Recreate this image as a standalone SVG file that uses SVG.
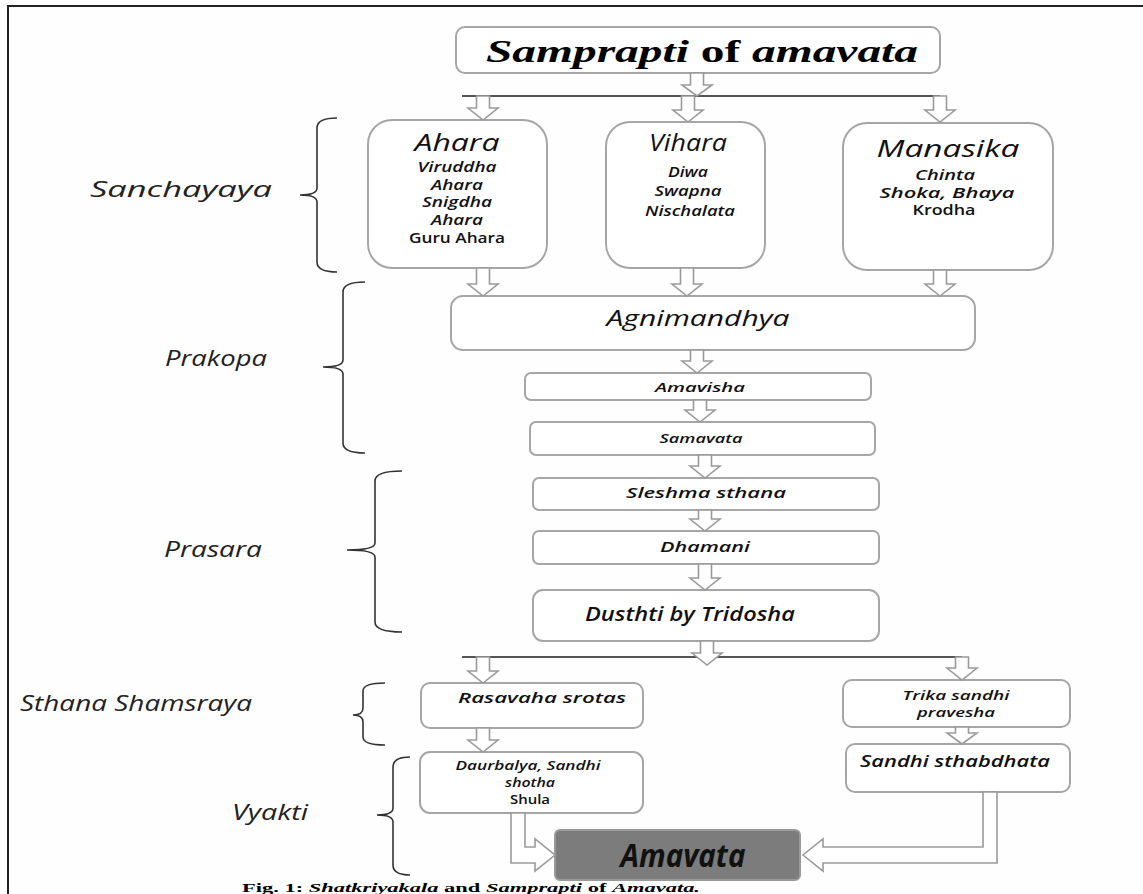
<svg xmlns="http://www.w3.org/2000/svg" width="1143" height="894" viewBox="0 0 1143 894">
<style>
.box{fill:#fff;stroke:#a6a6a6;stroke-width:2}
.arr{fill:#fff;stroke:#9a9a9a;stroke-width:1.6;stroke-linejoin:miter}
.hl{stroke:#555;stroke-width:2;fill:none}
.br{stroke:#333;stroke-width:1.6;fill:none}
.t{font-family:"Open Sans","DejaVu Sans",sans-serif;fill:#111;text-anchor:middle}
.i{font-style:italic}
.b{font-weight:600}
.sb{font-weight:600}
.side{font-family:"Open Sans","DejaVu Sans",sans-serif;font-style:italic;font-size:21px;fill:#222}
</style>
<rect width="1143" height="894" fill="#fefefe"/>
<path d="M8,894 V6 H1143" stroke="#222" stroke-width="2" fill="none"/>

<g id="title">
<rect class="box" x="456" y="27" width="484" height="46" rx="9"/>
<text x="702" y="62" font-family="'Liberation Serif',serif" font-weight="700" font-size="32" text-anchor="middle" textLength="432" lengthAdjust="spacingAndGlyphs"><tspan font-style="italic">Samprapti</tspan> of <tspan font-style="italic">amavata</tspan></text>
</g>

<g id="ahara">
<rect class="box" x="368" y="120" width="179" height="148" rx="24"/>
<text class="t i" x="457" y="151" font-size="23" textLength="85" lengthAdjust="spacingAndGlyphs">Ahara</text>
<text class="t i b" x="457" y="172" font-size="14" textLength="79" lengthAdjust="spacingAndGlyphs">Viruddha</text>
<text class="t i b" x="457" y="190" font-size="14" textLength="52" lengthAdjust="spacingAndGlyphs">Ahara</text>
<text class="t i b" x="457" y="207" font-size="14" textLength="70" lengthAdjust="spacingAndGlyphs">Snigdha</text>
<text class="t i b" x="457" y="225" font-size="14" textLength="52" lengthAdjust="spacingAndGlyphs">Ahara</text>
<text class="t sb" x="457" y="243" font-size="14" textLength="96" lengthAdjust="spacingAndGlyphs">Guru Ahara</text>
</g>

<g id="vihara">
<rect class="box" x="606" y="122" width="159" height="146" rx="24"/>
<text class="t i" x="688" y="151" font-size="23" textLength="78" lengthAdjust="spacingAndGlyphs">Vihara</text>
<text class="t i b" x="688" y="177" font-size="14" textLength="40" lengthAdjust="spacingAndGlyphs">Diwa</text>
<text class="t i b" x="688" y="196" font-size="14" textLength="67" lengthAdjust="spacingAndGlyphs">Swapna</text>
<text class="t i b" x="690" y="216" font-size="14" textLength="90" lengthAdjust="spacingAndGlyphs">Nischalata</text>
</g>

<g id="manasika">
<rect class="box" x="843" y="123" width="210" height="147" rx="24"/>
<text class="t i" x="948" y="157" font-size="23" textLength="143" lengthAdjust="spacingAndGlyphs">Manasika</text>
<text class="t i b" x="945" y="180" font-size="14" textLength="60" lengthAdjust="spacingAndGlyphs">Chinta</text>
<text class="t i b" x="947" y="198" font-size="14" textLength="135" lengthAdjust="spacingAndGlyphs">Shoka, Bhaya</text>
<text class="t sb" x="944" y="215" font-size="14" textLength="63" lengthAdjust="spacingAndGlyphs">Krodha</text>
</g>

<g id="agnimandhya">
<rect class="box" x="451" y="296" width="524" height="54" rx="12"/>
<text class="t i" x="698" y="326" font-size="22" textLength="183" lengthAdjust="spacingAndGlyphs">Agnimandhya</text>
</g>

<g id="amavisha">
<rect class="box" x="525" y="373" width="346" height="27" rx="6"/>
<text class="t i sb" x="700" y="392" font-size="13" textLength="90" lengthAdjust="spacingAndGlyphs">Amavisha</text>
</g>

<g id="samavata">
<rect class="box" x="530" y="422" width="345" height="33" rx="6"/>
<text class="t i sb" x="701" y="443" font-size="13" textLength="83" lengthAdjust="spacingAndGlyphs">Samavata</text>
</g>

<g id="sleshma">
<rect class="box" x="533" y="478" width="346" height="32" rx="6"/>
<text class="t i sb" x="706" y="498" font-size="14" textLength="160" lengthAdjust="spacingAndGlyphs">Sleshma sthana</text>
</g>

<g id="dhamani">
<rect class="box" x="533" y="531" width="346" height="33" rx="6"/>
<text class="t i sb" x="705" y="552" font-size="14" textLength="90" lengthAdjust="spacingAndGlyphs">Dhamani</text>
</g>

<g id="dusthti">
<rect class="box" x="533" y="590" width="346" height="51" rx="10"/>
<text class="t i sb" x="690" y="621" font-size="19" textLength="210" lengthAdjust="spacingAndGlyphs">Dusthti by Tridosha</text>
</g>

<g id="rasavaha">
<rect class="box" x="421" y="683" width="222" height="45" rx="9"/>
<text class="t i b" x="542" y="703" font-size="14" textLength="168" lengthAdjust="spacingAndGlyphs">Rasavaha srotas</text>
</g>

<g id="trika">
<rect class="box" x="843" y="680" width="227" height="47" rx="9"/>
<text class="t i b" x="956" y="700" font-size="13" textLength="107" lengthAdjust="spacingAndGlyphs">Trika sandhi</text>
<text class="t i b" x="956" y="717" font-size="13" textLength="78" lengthAdjust="spacingAndGlyphs">pravesha</text>
</g>

<g id="daurbalya">
<rect class="box" x="420" y="752" width="223" height="61" rx="10"/>
<text class="t i b" x="528" y="770" font-size="12" textLength="145" lengthAdjust="spacingAndGlyphs">Daurbalya, Sandhi</text>
<text class="t i b" x="530" y="787" font-size="12" textLength="50" lengthAdjust="spacingAndGlyphs">shotha</text>
<text class="t sb" x="530" y="804" font-size="13" textLength="40" lengthAdjust="spacingAndGlyphs">Shula</text>
</g>

<g id="sthabdhata">
<rect class="box" x="846" y="744" width="224" height="48" rx="9"/>
<text class="t i sb" x="955" y="767" font-size="16" textLength="190" lengthAdjust="spacingAndGlyphs">Sandhi sthabdhata</text>
</g>

<g id="amavata">
<rect x="555" y="830" width="245" height="50" rx="5" fill="#7c7c7c" stroke="#9a9a9a" stroke-width="2"/>
<text class="t i" x="683" y="867" font-size="33" font-weight="700" textLength="125" lengthAdjust="spacingAndGlyphs">Amavata</text>
</g>

<g id="connectors">
<path class="hl" d="M462,96 H940"/>
<path class="hl" d="M462,657 H962"/>
<path class="arr" d="M690.5,73 H703.5 V85 H712 L697,96 L682,85 H690.5 Z"/>
<path class="arr" d="M476.5,96 H489.5 V108 H498 L483,120 L468,108 H476.5 Z"/>
<path class="arr" d="M681.5,96 H694.5 V110 H703 L688,122 L673,110 H681.5 Z"/>
<path class="arr" d="M933.5,96 H946.5 V110 H955 L940,122 L925,110 H933.5 Z"/>
<path class="arr" d="M476.5,268 H489.5 V284 H498 L483,296 L468,284 H476.5 Z"/>
<path class="arr" d="M680.5,268 H693.5 V284 H702 L687,296 L672,284 H680.5 Z"/>
<path class="arr" d="M933.5,270 H946.5 V284 H955 L940,296 L925,284 H933.5 Z"/>
<path class="arr" d="M690.5,350 H703.5 V361 H712 L697,373 L682,361 H690.5 Z"/>
<path class="arr" d="M693.5,400 H706.5 V410 H715 L700,422 L685,410 H693.5 Z"/>
<path class="arr" d="M698.5,455 H711.5 V466 H720 L705,478 L690,466 H698.5 Z"/>
<path class="arr" d="M698.5,510 H711.5 V519 H720 L705,531 L690,519 H698.5 Z"/>
<path class="arr" d="M698.5,564 H711.5 V578 H720 L705,590 L690,578 H698.5 Z"/>
<path class="arr" d="M700.5,641 H713.5 V653 H722 L707,665 L692,653 H700.5 Z"/>
<path class="arr" d="M476.5,657 H489.5 V671 H498 L483,683 L468,671 H476.5 Z"/>
<path class="arr" d="M955.5,657 H968.5 V668 H977 L962,680 L947,668 H955.5 Z"/>
<path class="arr" d="M476.5,728 H489.5 V740 H498 L483,752 L468,740 H476.5 Z"/>
<path class="arr" d="M955.5,727 H968.5 V733 H977 L962,744 L947,733 H955.5 Z"/>
<path class="arr" d="M511,813 V863 H535 V871 L555,855 L535,839 V847 H525 V813 Z"/>
<path class="arr" d="M997,792 V863 H823 V871 L803,855 L823,839 V847 H983 V792 Z"/>
</g>

<g id="braces">
<path class="br" d="M337,118 Q317,118 317,128 V188 Q317,195 300,195 Q317,195 317,202 V262 Q317,272 337,272"/>
<path class="br" d="M365,282 Q343,282 343,292 V360 Q343,367 323,367 Q343,367 343,374 V443 Q343,453 365,453"/>
<path class="br" d="M402,471 Q375,471 375,481 V543 Q375,550 347,550 Q375,550 375,557 V622 Q375,632 402,632"/>
<path class="br" d="M385,683 Q363,683 363,691 V708 Q363,715 353,715 Q363,715 363,722 V737 Q363,745 385,745"/>
<path class="br" d="M410,757 Q393,757 393,767 V808 Q393,815 377,815 Q393,815 393,822 V865 Q393,875 410,875"/>
</g>

<g id="stages">
<text class="side" x="90" y="197" textLength="182" lengthAdjust="spacingAndGlyphs">Sanchayaya</text>
<text class="side" x="165" y="366" textLength="102" lengthAdjust="spacingAndGlyphs">Prakopa</text>
<text class="side" x="164" y="557" textLength="98" lengthAdjust="spacingAndGlyphs">Prasara</text>
<text class="side" x="20" y="711" textLength="232" lengthAdjust="spacingAndGlyphs">Sthana Shamsraya</text>
<text class="side" x="232" y="820" textLength="76" lengthAdjust="spacingAndGlyphs">Vyakti</text>
</g>

<text x="242" y="892" font-family="'Liberation Serif',serif" font-weight="700" font-size="13" textLength="458" lengthAdjust="spacingAndGlyphs">Fig. 1: <tspan font-style="italic">Shatkriyakala</tspan> and <tspan font-style="italic">Samprapti</tspan> of <tspan font-style="italic">Amavata.</tspan></text>
</svg>
